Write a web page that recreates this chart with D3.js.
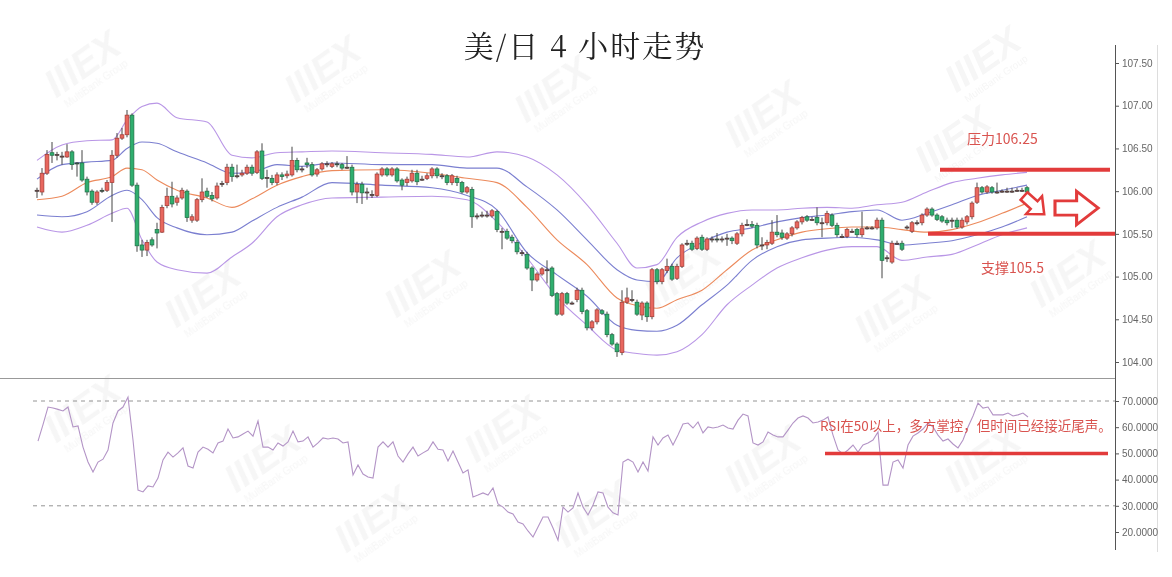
<!DOCTYPE html>
<html><head><meta charset="utf-8">
<script src="https://cdn.jsdelivr.net/npm/d3@7/dist/d3.min.js"></script>
<style>body{margin:0;background:#fff}svg{display:block}</style>
</head><body><svg id="c" width="1172" height="577"></svg>
<script>
// ---- DATA ----
const title = "美/日 4 小时走势";
// candles: [open, high, low, close]
const candles = [
[106.00,106.04,105.92,106.01],[105.99,106.27,105.95,106.21],[106.21,106.48,106.19,106.43],[106.45,106.575,106.33,106.42],[106.43,106.46,106.36,106.43],
[106.41,106.46,106.31,106.41],[106.40,106.55,106.39,106.46],[106.46,106.48,106.25,106.31],[106.33,106.34,106.17,106.32],[106.33,106.48,106.11,106.13],
[106.14,106.17,105.95,105.99],[106.00,106.02,105.84,105.87],[105.87,106.01,105.84,105.99],[106.01,106.04,105.98,106.00],[106.01,106.13,105.99,106.10],
[106.10,106.48,105.64,106.42],[106.42,106.68,106.39,106.62],[106.62,106.74,106.60,106.66],[106.66,106.95,106.63,106.89],[106.89,106.91,106.05,106.07],
[106.07,106.10,105.29,105.36],[105.37,105.43,105.23,105.31],[105.31,105.43,105.24,105.40],[105.43,105.46,105.35,105.37],[105.55,105.63,105.33,105.51],
[105.52,105.84,105.51,105.81],[105.83,106.04,105.80,105.94],[105.94,106.11,105.81,105.85],[105.87,105.95,105.83,105.92],[105.92,106.04,105.90,106.01],
[106.00,106.02,105.64,105.69],[105.66,105.73,105.63,105.70],[105.66,105.92,105.64,105.90],[105.90,106.15,105.87,105.99],[106.00,106.04,105.92,105.94],
[105.95,105.99,105.88,105.91],[105.92,106.10,105.90,106.06],[106.08,106.12,106.05,106.09],[106.10,106.32,106.07,106.28],[106.28,106.32,106.11,106.17],
[106.18,106.31,106.15,106.18],[106.19,106.25,106.17,106.21],[106.21,106.31,106.19,106.28],[106.28,106.31,106.18,106.21],[106.22,106.48,106.20,106.46],
[106.47,106.56,106.13,106.15],[106.15,106.25,106.04,106.16],[106.15,106.19,106.07,106.10],[106.10,106.22,106.07,106.19],[106.19,106.22,106.13,106.17],
[106.18,106.24,106.15,106.20],[106.19,106.52,106.17,106.36],[106.36,106.39,106.22,106.25],[106.26,106.29,106.22,106.26],[106.33,106.39,106.27,106.31],
[106.31,106.34,106.17,106.19],[106.20,106.27,106.17,106.25],[106.26,106.34,106.24,106.32],[106.32,106.35,106.28,106.32],[106.29,106.34,106.27,106.32],
[106.32,106.35,106.28,106.31],[106.31,106.33,106.25,106.27],[106.28,106.41,106.26,106.28],[106.28,106.31,105.95,105.99],[105.99,106.11,105.86,106.08],
[106.08,106.11,105.85,105.98],[105.99,106.04,105.90,105.99],[105.95,106.01,105.92,105.96],[105.95,106.22,105.93,106.20],[106.19,106.28,106.17,106.26],
[106.26,106.28,106.17,106.19],[106.19,106.28,106.17,106.26],[106.26,106.28,106.10,106.12],[106.13,106.15,106.01,106.07],[106.10,106.17,106.06,106.14],
[106.12,106.25,106.10,106.21],[106.21,106.25,106.07,106.11],[106.14,106.18,106.12,106.14],[106.15,106.21,106.13,106.18],[106.18,106.28,106.15,106.26],
[106.26,106.28,106.15,106.18],[106.18,106.21,106.14,106.18],[106.18,106.20,106.07,106.10],[106.10,106.20,106.07,106.18],[106.15,106.18,106.06,106.10],
[106.10,106.12,105.97,105.99],[105.99,106.06,105.97,106.04],[106.02,106.05,105.57,105.70],[105.71,105.74,105.67,105.71],[105.72,105.76,105.69,105.72],
[105.72,105.77,105.69,105.72],[105.71,105.79,105.69,105.77],[105.76,105.78,105.52,105.55],[105.53,105.57,105.32,105.53],[105.53,105.56,105.43,105.45],
[105.46,105.49,105.39,105.42],[105.40,105.43,105.26,105.29],[105.28,105.31,105.24,105.28],[105.26,105.29,105.08,105.10],[105.10,105.12,104.83,104.96],
[104.96,105.05,104.94,105.03],[105.03,105.11,105.01,105.09],[105.08,105.19,104.92,105.08],[105.10,105.12,104.76,104.78],[104.80,104.82,104.54,104.56],
[104.56,104.82,104.54,104.80],[104.80,104.82,104.67,104.69],[104.69,104.71,104.67,104.69],[104.73,104.87,104.70,104.84],[104.84,104.87,104.56,104.59],
[104.60,104.62,104.37,104.40],[104.40,104.49,104.37,104.47],[104.47,104.63,104.44,104.61],[104.60,104.62,104.55,104.57],[104.56,104.59,104.29,104.32],
[104.32,104.34,104.19,104.21],[104.21,104.23,104.06,104.12],[104.11,104.84,104.08,104.70],[104.70,104.87,104.68,104.75],[104.73,104.84,104.70,104.73],
[104.70,104.73,104.54,104.56],[104.55,104.71,104.49,104.69],[104.69,104.71,104.47,104.53],[104.53,105.10,104.50,105.08],[105.08,105.10,104.91,104.94],
[104.94,105.10,104.91,105.08],[105.07,105.21,105.04,105.12],[105.12,105.15,104.95,104.97],[104.98,105.15,104.96,105.12],[105.12,105.39,105.10,105.37],
[105.39,105.43,105.36,105.39],[105.39,105.42,105.30,105.32],[105.33,105.47,105.31,105.45],[105.46,105.49,105.30,105.32],[105.32,105.46,105.30,105.44],
[105.44,105.47,105.40,105.44],[105.44,105.51,105.40,105.43],[105.44,105.47,105.40,105.44],[105.45,105.50,105.36,105.45],[105.45,105.47,105.38,105.42],
[105.39,105.52,105.37,105.50],[105.50,105.63,105.47,105.60],[105.61,105.67,105.59,105.61],[105.61,105.65,105.57,105.59],[105.60,105.63,105.33,105.37],
[105.37,105.46,105.31,105.37],[105.37,105.43,105.32,105.40],[105.39,105.66,105.37,105.52],[105.52,105.72,105.46,105.49],[105.51,105.55,105.43,105.46],
[105.45,105.52,105.43,105.50],[105.50,105.59,105.47,105.57],[105.57,105.66,105.55,105.64],[105.64,105.71,105.61,105.69],[105.70,105.72,105.64,105.66],
[105.67,105.70,105.65,105.67],[105.69,105.81,105.60,105.63],[105.63,105.69,105.46,105.63],[105.63,105.77,105.60,105.74],[105.72,105.74,105.58,105.60],
[105.60,105.63,105.46,105.49],[105.47,105.50,105.45,105.47],[105.47,105.57,105.45,105.55],[105.53,105.56,105.51,105.53],[105.55,105.57,105.46,105.49],
[105.49,105.76,105.46,105.56],[105.57,105.59,105.55,105.57],[105.57,105.59,105.55,105.57],[105.57,105.69,105.55,105.66],[105.66,105.69,104.98,105.19],
[105.22,105.25,105.17,105.22],[105.17,105.42,105.15,105.39],[105.39,105.42,105.37,105.39],[105.39,105.42,105.30,105.32],[105.58,105.60,105.55,105.58],
[105.53,105.65,105.51,105.63],[105.63,105.66,105.60,105.63],[105.63,105.74,105.60,105.72],[105.72,105.81,105.70,105.79],[105.79,105.81,105.70,105.72],
[105.72,105.74,105.65,105.67],[105.70,105.72,105.63,105.65],[105.66,105.69,105.60,105.63],[105.66,105.69,105.57,105.66],[105.66,105.69,105.56,105.58],
[105.58,105.69,105.56,105.66],[105.64,105.72,105.61,105.70],[105.70,105.88,105.67,105.86],[105.87,106.10,105.85,106.04],[106.04,106.06,105.97,105.99],
[105.99,106.07,105.97,106.05],[106.04,106.06,105.97,105.99],[105.99,106.10,105.97,105.99],[106.00,106.02,105.98,106.00],[106.00,106.04,105.98,106.00],
[106.00,106.04,105.98,106.00],[106.01,106.04,105.99,106.01],[106.01,106.04,105.99,106.01],[106.04,106.06,105.97,105.99]
];
// indicator bands sampled at candle indices
const bandIdx = [0,5,10,15,18,21,24,28,34,39,43,48,53,59,69,79,86,92,98,104,110,116,120,124,128,133,138,143,148,153,158,163,168,173,178,183,188,193,198];
const outerUpper = [106.36,106.54,106.59,106.60,106.83,106.99,107.03,106.86,106.81,106.42,106.39,106.45,106.46,106.47,106.45,106.43,106.40,106.46,106.40,106.19,105.84,105.39,105.10,105.14,105.46,105.64,105.74,105.78,105.78,105.80,105.81,105.80,105.84,105.87,105.99,106.10,106.15,106.19,106.22];
const innerUpper = [106.14,106.31,106.34,106.36,106.50,106.575,106.56,106.46,106.33,106.21,106.22,106.31,106.29,106.33,106.31,106.31,106.27,106.27,106.05,105.78,105.43,105.08,104.96,104.94,105.22,105.40,105.52,105.57,105.64,105.69,105.72,105.76,105.78,105.66,105.74,105.84,105.95,106.01,106.07];
const movingAvg = [105.90,105.94,106.10,106.17,106.27,106.25,106.13,106.01,105.92,105.81,105.91,106.07,106.17,106.24,106.25,106.21,106.15,106.10,105.81,105.43,105.14,104.75,104.66,104.63,104.73,104.84,105.08,105.31,105.43,105.52,105.56,105.58,105.58,105.55,105.52,105.55,105.63,105.74,105.86];
const innerLower = [105.72,105.70,105.76,105.95,106.01,105.90,105.69,105.57,105.49,105.52,105.65,105.81,105.93,106.10,106.07,106.04,105.95,105.78,105.28,105.02,104.77,104.43,104.37,104.36,104.43,104.67,104.90,105.19,105.35,105.43,105.45,105.46,105.43,105.37,105.39,105.42,105.49,105.58,105.70];
const outerLower = [105.58,105.52,105.60,105.74,105.80,105.43,105.17,105.08,105.04,105.23,105.39,105.70,105.84,105.92,105.93,105.94,105.90,105.64,105.22,104.76,104.43,104.14,104.10,104.08,104.12,104.32,104.67,104.90,105.10,105.22,105.31,105.35,105.35,105.19,105.23,105.26,105.37,105.49,105.57];
const rsi = [54.7,61.0,67.7,67.3,66.8,66.2,67.7,60.1,60.5,52.4,46.7,42.9,46.7,47.8,51.3,61.6,66.2,67.7,71.5,55.1,
36.0,35.3,37.6,37.2,40.6,47.5,50.5,48.6,50.2,52.1,45.2,44.4,50.5,52.4,51.6,50.2,54.0,54.7,59.3,55.9,
56.3,57.4,58.5,56.6,62.4,52.4,52.4,51.3,54.0,52.8,54.4,58.5,54.4,54.7,56.3,52.4,54.0,55.9,55.5,55.9,
55.5,54.0,54.4,41.8,45.6,42.1,41.0,40.6,52.4,54.4,52.4,54.4,49.0,46.7,49.8,52.4,49.0,50.2,51.3,54.4,
51.6,51.3,47.1,50.9,46.7,42.5,43.7,33.4,34.1,34.9,34.1,36.8,30.7,29.5,27.6,26.9,23.8,23.1,20.4,18.1,
21.9,25.7,25.7,21.5,16.9,29.5,27.6,29.2,34.9,29.5,26.5,30.3,35.3,34.9,29.5,27.3,26.5,46.7,47.8,46.7,
42.9,46.7,43.3,56.3,53.2,55.9,57.0,53.2,57.0,61.2,61.6,59.7,62.0,57.8,60.1,59.7,60.1,60.8,59.7,59.3,
62.7,65.0,64.3,54.0,53.2,54.4,58.2,57.0,56.3,56.3,58.9,61.6,63.5,64.3,63.5,61.6,62.0,62.7,63.9,57.0,
51.3,49.8,51.3,53.2,50.5,53.2,54.0,55.1,58.2,37.9,37.9,46.7,47.5,44.4,53.2,56.6,57.8,59.3,61.6,60.1,
57.0,54.7,55.5,53.6,52.1,55.1,60.1,64.3,69.2,67.3,67.7,64.7,64.7,64.7,65.4,64.3,64.7,65.4,63.9];
const priceTicks = [104.0,104.5,105.0,105.5,106.0,106.5,107.0,107.5];
const rsiTicks = [20,30,40,50,60,70];
const rsiGuides = [70,30];
const resistance = 106.25, support = 105.5, rsiLevel = 50;
const labelResistance = "压力106.25", labelSupport = "支撑105.5";
const rsiNote = "RSI在50以上，多方掌控，但时间已经接近尾声。";

// ---- DRAW ----
const svg = d3.select("#c");
const x = d3.scaleLinear().domain([0, 198]).range([37, 1027]);
const y = d3.scaleLinear().domain([104, 107.5]).range([362, 63]);
const yr = d3.scaleLinear().domain([20, 70]).range([532, 401]);
const axisX = 1115;
const RED = "#e23b3b";

// watermarks (faint)
const wm = [[90,75],[330,80],[560,100],[770,125],[990,70],[960,150],[210,305],[430,295],[690,285],[900,320],[1075,285],[90,420],[270,470],[510,440],[770,470],[990,470],[380,530],[600,525]];
const wg = svg.append("g").attr("opacity",0.55);
wm.forEach(([wx,wy])=>{
  const g = wg.append("g").attr("transform",`translate(${wx},${wy}) rotate(-35)`);
  g.append("text").text("IIIEX").attr("font-family","Arial, sans-serif").attr("font-weight","bold").attr("font-style","italic").attr("font-size",38).attr("fill","#eeeeee").attr("text-anchor","middle");
  g.append("text").text("MultiBank Group").attr("y",14).attr("font-family","Arial, sans-serif").attr("font-size",10).attr("fill","#eeeeee").attr("text-anchor","middle");
});

// title
svg.append("text").text(title).attr("x",585).attr("y",57).attr("text-anchor","middle")
  .attr("font-family","'Noto Serif CJK SC','Noto Sans CJK SC',serif").attr("font-size",30).attr("letter-spacing",2).attr("fill","#222");

// panel separator & frame
svg.append("line").attr("x1",0).attr("x2",axisX).attr("y1",378.5).attr("y2",378.5).attr("stroke","#999").attr("stroke-width",1);
svg.append("line").attr("x1",1157.5).attr("x2",1157.5).attr("y1",45).attr("y2",552).attr("stroke","#ddd");

// bands
const bandLine = arr => d3.line().x((d,i)=>x(bandIdx[i])).y(d=>y(d)).curve(d3.curveMonotoneX)(arr);
[[outerUpper,"#b996e6"],[outerLower,"#b996e6"],[innerUpper,"#7b7fd0"],[innerLower,"#7b7fd0"],[movingAvg,"#ec8a5c"]].forEach(([a,c])=>{
  svg.append("path").attr("d",bandLine(a)).attr("fill","none").attr("stroke",c).attr("stroke-width",1.1);
});

// candles
const cg = svg.append("g");
const bw = 3.8;
candles.forEach((d,i)=>{
  const [o,h,l,c] = d;
  const up = c >= o;
  const fill = up ? "#e8675e" : "#2fae6e";
  const stroke = up ? "#a33a33" : "#1d6e44";
  const cx = x(i);
  cg.append("line").attr("x1",cx).attr("x2",cx).attr("y1",y(h)).attr("y2",y(l)).attr("stroke","#444").attr("stroke-width",1);
  const top = y(Math.max(o,c)), bot = y(Math.min(o,c));
  const hgt = Math.max(1, bot-top);
  cg.append("rect").attr("x",cx-bw/2).attr("y",top).attr("width",bw).attr("height",hgt)
    .attr("fill",fill).attr("stroke",hgt<=1.5?"#333":stroke).attr("stroke-width",0.7);
});

// support / resistance
svg.append("line").attr("x1",940).attr("x2",1110).attr("y1",y(resistance)).attr("y2",y(resistance)).attr("stroke",RED).attr("stroke-width",4);
svg.append("line").attr("x1",928).attr("x2",axisX).attr("y1",y(support)).attr("y2",y(support)).attr("stroke",RED).attr("stroke-width",4);
svg.append("text").text(labelResistance).attr("x",967).attr("y",144).attr("font-family","'Noto Sans CJK SC',sans-serif").attr("font-size",14).attr("fill","#d9534f");
svg.append("text").text(labelSupport).attr("x",981).attr("y",273).attr("font-family","'Noto Sans CJK SC',sans-serif").attr("font-size",14).attr("fill","#d9534f");

// arrows (hollow)
const arrowShape = "M0,-6 L16,-6 L16,-14 L32,0 L16,14 L16,6 L0,6 Z";
svg.append("path").attr("d",arrowShape).attr("transform","translate(1024,196) rotate(42) scale(0.85)")
  .attr("fill","#fff").attr("stroke",RED).attr("stroke-width",3);
svg.append("path").attr("d",arrowShape).attr("transform","translate(1055,208) scale(1.35,1.2)")
  .attr("fill","#fff").attr("stroke",RED).attr("stroke-width",2.3);

// price axis
const ay = svg.append("g").attr("transform",`translate(${axisX},0)`)
  .call(d3.axisRight(y).tickValues(priceTicks).tickFormat(d3.format(".2f")).tickSize(4).tickPadding(3));
ay.select(".domain").attr("d","M0.5,45V378").attr("stroke","#555");
ay.selectAll(".tick line").attr("stroke","#555");
ay.selectAll("text").attr("font-family","Arial, 'Liberation Sans', sans-serif").attr("font-size",10).attr("fill","#666");

// RSI panel
rsiGuides.forEach(v=>{
  svg.append("line").attr("x1",33).attr("x2",axisX).attr("y1",yr(v)).attr("y2",yr(v)).attr("stroke","#888").attr("stroke-dasharray","4,4").attr("stroke-width",0.9);
});
svg.append("path").attr("d", d3.line().x((d,i)=>x(i)+1).y(d=>yr(d))(rsi)).attr("fill","none").attr("stroke","#b394c6").attr("stroke-width",1.1);
svg.append("line").attr("x1",825).attr("x2",1108).attr("y1",yr(rsiLevel)).attr("y2",yr(rsiLevel)).attr("stroke",RED).attr("stroke-width",3.5);
svg.append("text").text(rsiNote).attr("x",820).attr("y",431).attr("font-family","'Noto Sans CJK SC',sans-serif").attr("font-size",13.5).attr("fill","#d9534f");
const ar = svg.append("g").attr("transform",`translate(${axisX},0)`)
  .call(d3.axisRight(yr).tickValues(rsiTicks).tickFormat(d3.format(".4f")).tickSize(4).tickPadding(3));
ar.select(".domain").attr("d","M0.5,378V550").attr("stroke","#555");
ar.selectAll(".tick line").attr("stroke","#555");
ar.selectAll("text").attr("font-family","Arial, 'Liberation Sans', sans-serif").attr("font-size",10).attr("fill","#666");
</script></body></html>
